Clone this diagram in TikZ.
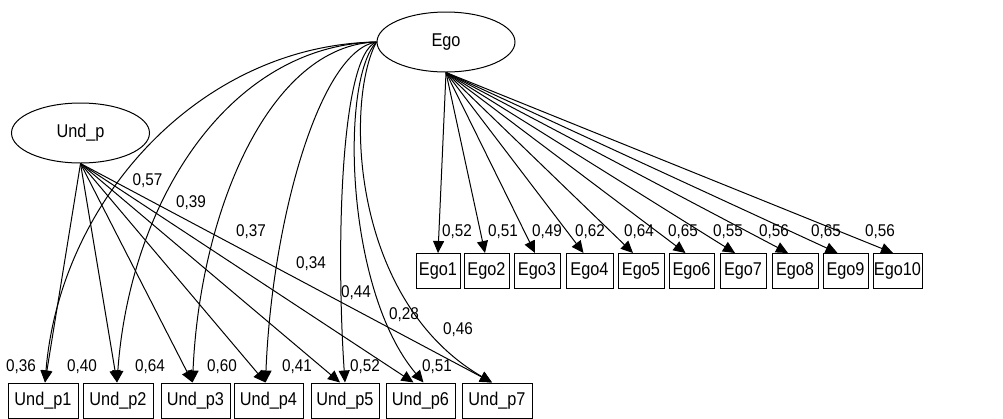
\documentclass[tikz,border=0pt]{standalone}
\usepackage{fontspec}
\setmainfont{Liberation Sans}
\newfontfamily\nodefont[FakeStretch=0.88]{Liberation Sans}
\newfontfamily\lblfont[FakeStretch=0.9]{Liberation Sans}
\usetikzlibrary{arrows.meta,shapes.geometric}
\begin{document}
\begin{tikzpicture}[x=1pt,y=-1pt,
  lat/.style={draw, ellipse, minimum width=138pt, minimum height=60pt, inner sep=0pt, line width=1pt, font=\nodefont\fontsize{18.5}{20}\selectfont},
  obs/.style={draw, rectangle, minimum height=35pt, inner sep=0pt, line width=1pt, font=\nodefont\fontsize{18.5}{20}\selectfont},
  arr/.style={line width=1pt, -{Triangle[length=12pt,width=11pt]}},
  lbl/.style={font=\lblfont\fontsize{17}{18}\selectfont, inner sep=0pt}]
\useasboundingbox (0,0) rectangle (1003,418);

% latent variables
\node[lat] (ego) at (446,42) {Ego};
\node[lat] (und) at (80.5,133) {Und\_p};

% Ego indicators
\node[obs, minimum width=44pt] (e1) at (438,271) {Ego1};
\node[obs, minimum width=45pt] (e2) at (486.5,271) {Ego2};
\node[obs, minimum width=46pt] (e3) at (537,271) {Ego3};
\node[obs, minimum width=47pt] (e4) at (589.5,271) {Ego4};
\node[obs, minimum width=46pt] (e5) at (641,271) {Ego5};
\node[obs, minimum width=45pt] (e6) at (691.5,271) {Ego6};
\node[obs, minimum width=46pt] (e7) at (743,271) {Ego7};
\node[obs, minimum width=46pt] (e8) at (795,271) {Ego8};
\node[obs, minimum width=45pt] (e9) at (845.5,271) {Ego9};
\node[obs, minimum width=49pt] (e10) at (897.5,271) {Ego10};

% Und_p indicators
\node[obs, minimum width=70pt] (u1) at (43,400.5) {Und\_p1};
\node[obs, minimum width=70pt] (u2) at (118,400.5) {Und\_p2};
\node[obs, minimum width=69pt] (u3) at (195.5,400.5) {Und\_p3};
\node[obs, minimum width=69pt] (u4) at (268.5,400.5) {Und\_p4};
\node[obs, minimum width=68pt] (u5) at (345,400.5) {Und\_p5};
\node[obs, minimum width=69pt] (u6) at (420.5,400.5) {Und\_p6};
\node[obs, minimum width=70pt] (u7) at (497,400.5) {Und\_p7};

% Ego -> Ego items
\draw[arr] (ego.south) -- (e1.north);
\draw[arr] (ego.south) -- ([xshift=-1.5pt]e2.north);
\draw[arr] (ego.south) -- ([xshift=-2pt]e3.north);
\draw[arr] (ego.south) -- ([xshift=-6pt]e4.north);
\draw[arr] (ego.south) -- ([xshift=-8pt]e5.north);
\draw[arr] (ego.south) -- ([xshift=-6pt]e6.north);
\draw[arr] (ego.south) -- ([xshift=-8pt]e7.north);
\draw[arr] (ego.south) -- ([xshift=-7pt]e8.north);
\draw[arr] (ego.south) -- ([xshift=-8pt]e9.north);
\draw[arr] (ego.south) -- ([xshift=-4.5pt]e10.north);

% Und_p -> Und_p items
\draw[arr] (und.south) -- ([xshift=2pt]u1.north);
\draw[arr] (und.south) -- ([xshift=-1pt]u2.north);
\draw[arr] (und.south) -- ([xshift=-3pt]u3.north);
\draw[arr] (und.south) -- ([xshift=-3pt]u4.north);
\draw[arr] (und.south) -- ([xshift=-5pt]u5.north);
\draw[arr] (und.south) -- ([xshift=-7pt]u6.north);
\draw[arr] (und.south) -- ([xshift=-5pt]u7.north);

% Ego -> Und_p items (curved)
\draw[arr] (ego.west) .. controls (200,45) and (60,200) .. ([xshift=2pt]u1.north);
\draw[arr] (ego.west) .. controls (230,45) and (130,200) .. ([xshift=-1pt]u2.north);
\draw[arr] (ego.west) .. controls (270,45) and (200,210) .. ([xshift=-3pt]u3.north);
\draw[arr] (ego.west) .. controls (320,50) and (272,220) .. ([xshift=-3pt]u4.north);
\draw[arr] (ego.west) .. controls (340,55) and (336,250) .. (u5.north);
\draw[arr] (ego.west) .. controls (340,80) and (345,290) .. ([xshift=3pt]u6.north);
\draw[arr] (ego.west) .. controls (345,100) and (350,300) .. ([xshift=-5pt]u7.north);

% loading labels on Ego items
\node[lbl] (le1) at (457,232) {0,52};
\node[lbl] (le2) at (503,232) {0,51};
\node[lbl] (le3) at (547,232) {0,49};
\node[lbl] (le4) at (590,232) {0,62};
\node[lbl] (le5) at (639,232) {0,64};
\node[lbl] (le6) at (683,232) {0,65};
\node[lbl] (le7) at (728,232) {0,55};
\node[lbl] (le8) at (774,232) {0,56};
\node[lbl] (le9) at (826,232) {0,65};
\node[lbl] (le10) at (880,232) {0,56};

% loading labels on Und_p items
\node[lbl] (lu1) at (21,367) {0,36};
\node[lbl] (lu2) at (82,367) {0,40};
\node[lbl] (lu3) at (150,367) {0,64};
\node[lbl] (lu4) at (222,367) {0,60};
\node[lbl] (lu5) at (297,367) {0,41};
\node[lbl] (lu6) at (365,367) {0,52};
\node[lbl] (lu7) at (437,367) {0,51};

% cross-loading labels
\node[lbl] (lc1) at (147.5,181) {0,57};
\node[lbl] (lc2) at (191,203) {0,39};
\node[lbl] (lc3) at (251,232) {0,37};
\node[lbl] (lc4) at (311,264) {0,34};
\node[lbl] (lc5) at (356,293) {0,44};
\node[lbl] (lc6) at (404,315) {0,28};
\node[lbl] (lc7) at (458,330) {0,46};
\end{tikzpicture}
\end{document}
